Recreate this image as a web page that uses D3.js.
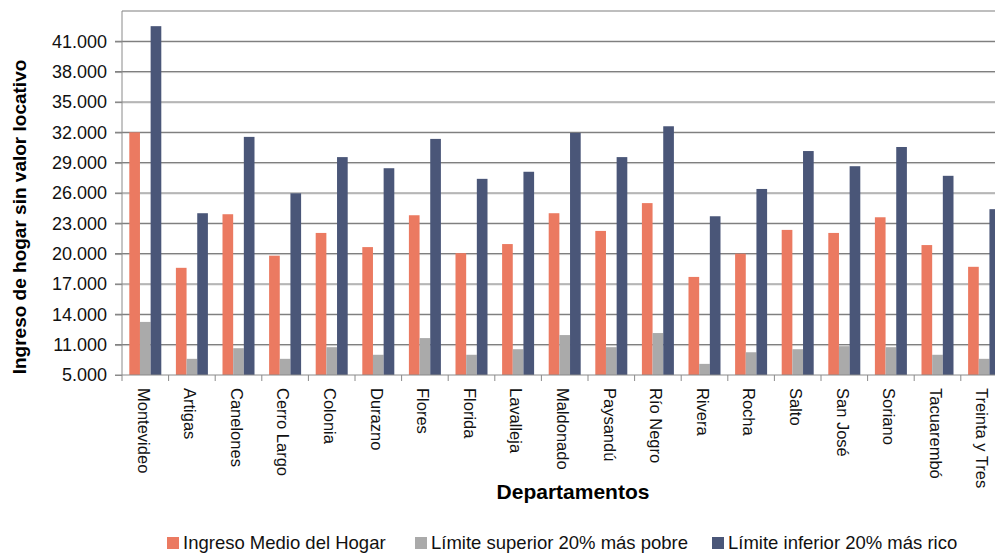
<!DOCTYPE html>
<html>
<head>
<meta charset="utf-8">
<script src="https://cdn.jsdelivr.net/npm/d3@7"></script>
<style>
  body { margin: 0; background: #fff; }
  svg { display: block; font-family: "Liberation Sans", Arial, sans-serif; }
</style>
</head>
<body>
<div id="container"></div>
<script>
const departamentos = ["Montevideo", "Artigas", "Canelones", "Cerro Largo", "Colonia", "Durazno", "Flores", "Florida", "Lavalleja", "Maldonado", "Paysandú", "Río Negro", "Rivera", "Rocha", "Salto", "San José", "Soriano", "Tacuarembó", "Treinta y Tres"]

const ingresoMedio = [32000, 18600, 23900, 19800, 22050, 20650, 23800, 20050, 20950, 24000, 22250, 25000, 17700, 20000, 22350, 22050, 23600, 20850, 18700]
const limitePobre = [13250, 9600, 10650, 9600, 10750, 10000, 11650, 10000, 10550, 11950, 10750, 12150, 9100, 10250, 10550, 10850, 10750, 10000, 9600]
const limiteRico = [42500, 24000, 31550, 25970, 29550, 28450, 31350, 27400, 28100, 31950, 29550, 32600, 23700, 26400, 30150, 28650, 30550, 27700, 24400]

const seriesNames = ["Ingreso Medio del Hogar", "Límite superior 20% más pobre", "Límite inferior 20% más rico"]
const seriesColors = ["#EB7A61", "#AAAAAA", "#4A5678"]

const yTicks = [8000, 11000, 14000, 17000, 20000, 23000, 26000, 29000, 32000, 35000, 38000, 41000]
const yTickLabels = ["5.000", "11.000", "14.000", "17.000", "20.000", "23.000", "26.000", "29.000", "32.000", "35.000", "38.000", "41.000"]

const width = 995
const height = 553
const margin = {top: 11, left: 122, bottom: 375}
const bandW = 46.6

const svg = d3.create("svg")
    .attr("width", width)
    .attr("height", height)

const x = d3.scaleBand()
    .domain(departamentos)
    .range([margin.left, margin.left + bandW * departamentos.length])

const x1 = d3.scaleBand()
    .domain(d3.range(3))
    .range([7.3, 39.3])

const y = d3.scaleLinear()
    .domain([8000, 44000])
    .range([margin.bottom, margin.top])

// gridlines
const grid = svg.append("g")
yTicks.slice(1).forEach(t => {
    grid.append("line")
        .attr("x1", margin.left - 7).attr("x2", width)
        .attr("y1", y(t) + 1).attr("y2", y(t) + 1)
        .attr("stroke", "#dcdcdc")
    grid.append("line")
        .attr("x1", margin.left - 7).attr("x2", width)
        .attr("y1", y(t)).attr("y2", y(t))
        .attr("stroke", "#7f7f7f").attr("stroke-width", 1.2)
})
grid.append("line")
    .attr("x1", margin.left).attr("x2", width)
    .attr("y1", y(44000)).attr("y2", y(44000))
    .attr("stroke", "#a8a8a8").attr("stroke-width", 1.3)

// bars
const rows = departamentos.map((d, i) => ({dep: d, vals: [ingresoMedio[i], limitePobre[i], limiteRico[i]]}))

const groups = svg.append("g")
    .selectAll("g")
    .data(rows)
    .enter().append("g")
    .attr("transform", d => `translate(${x(d.dep)},0)`)

groups.selectAll("rect")
    .data(d => d.vals.map((v, k) => ({k, v})))
    .enter().append("rect")
    .attr("x", d => x1(d.k))
    .attr("y", d => y(d.v))
    .attr("width", x1.bandwidth())
    .attr("height", d => y(8000) - y(d.v))
    .attr("fill", d => seriesColors[d.k])

// y axis
svg.append("g")
    .attr("transform", `translate(${margin.left},0)`)
    .call(d3.axisLeft(y).tickValues(yTicks).tickSize(7).tickFormat((d, i) => yTickLabels[i]))
    .call(g => g.select(".domain").attr("stroke", "#8a8a8a").attr("d", `M-7,${y(8000)}H0V${y(44000)}`))
    .call(g => g.selectAll(".tick line").attr("stroke", "#8a8a8a"))
    .call(g => g.selectAll(".tick text")
        .attr("x", -15)
        .attr("font-size", "18px")
        .attr("font-family", "Liberation Sans, Arial, sans-serif")
        .attr("fill", "#111"))

// x axis
svg.append("g")
    .attr("transform", `translate(0,${margin.bottom})`)
    .call(d3.axisBottom(x).tickSize(0).tickFormat(""))
    .call(g => g.select(".domain").attr("stroke", "#8a8a8a").attr("d", `M${margin.left},0H${width}`))

svg.append("g")
    .selectAll("line")
    .data(departamentos)
    .enter().append("line")
    .attr("x1", d => x(d)).attr("x2", d => x(d))
    .attr("y1", margin.bottom).attr("y2", margin.bottom + 6)
    .attr("stroke", "#8a8a8a")

svg.append("g")
    .selectAll("text")
    .data(departamentos)
    .enter().append("text")
    .attr("transform", d => `translate(${x(d) + x.bandwidth() / 2 - 2},388) rotate(90)`)
    .attr("dy", "0.35em")
    .attr("font-size", "16.5px")
    .attr("fill", "#111")
    .text(d => d)

// axis titles
svg.append("text")
    .attr("transform", "translate(26,217) rotate(-90)")
    .attr("text-anchor", "middle")
    .attr("font-size", "19px")
    .attr("font-weight", "bold")
    .attr("fill", "#000")
    .text("Ingreso de hogar sin valor locativo")

svg.append("text")
    .attr("x", 573)
    .attr("y", 499)
    .attr("text-anchor", "middle")
    .attr("font-size", "21px")
    .attr("font-weight", "bold")
    .attr("fill", "#000")
    .text("Departamentos")

// legend
const legendX = [167, 415, 712]
const legend = svg.append("g")
legend.selectAll("rect")
    .data(seriesNames)
    .enter().append("rect")
    .attr("x", (d, i) => legendX[i])
    .attr("y", 537)
    .attr("width", 12)
    .attr("height", 12)
    .attr("fill", (d, i) => seriesColors[i])
legend.selectAll("text")
    .data(seriesNames)
    .enter().append("text")
    .attr("x", (d, i) => legendX[i] + 16)
    .attr("y", 548.5)
    .attr("font-size", "18.5px")
    .attr("fill", "#111")
    .text(d => d)

document.querySelector("#container").appendChild(svg.node())
</script>
</body>
</html>
